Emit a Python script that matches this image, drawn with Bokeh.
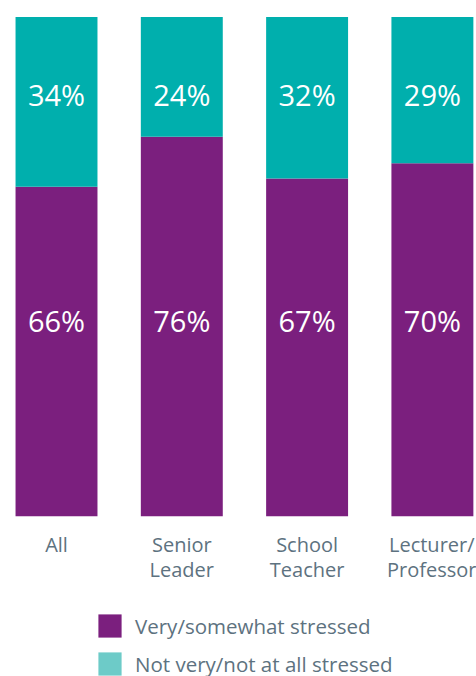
from bokeh.plotting import figure
from bokeh.layouts import column
from bokeh.models import ColumnDataSource, Range1d, FixedTicker, LinearAxis, Legend, LegendItem
from bokeh.core.properties import value
from bokeh.embed import file_html
from bokeh.resources import INLINE

categories = ["All", "Senior\nLeader", "School\nTeacher", "Lecturer/\nProfessor"]
stressed = [66, 76, 67, 70]
not_stressed = [34, 24, 32, 29]
series_labels = ["Very/somewhat stressed", "Not very/not at all stressed"]

PURPLE = "#7B1F7E"
TEAL = "#00AFAD"
TEAL_LEG = "#6DCBC8"
TXT = "#5D7280"
FONT = "Open Sans"

x = list(range(len(categories)))
totals = [a + b for a, b in zip(stressed, not_stressed)]
source = ColumnDataSource(dict(
    x=x,
    stressed=[100 * a / t for a, t in zip(stressed, totals)],
    not_stressed=[100 * b / t for b, t in zip(not_stressed, totals)],
    s_lab=[f"{v}%" for v in stressed],
    n_lab=[f"{v}%" for v in not_stressed],
    s_y=[39.2] * len(x),
    n_y=[84.5] * len(x),
))

p = figure(width=476, height=600, output_backend="svg", toolbar_location=None,
           x_range=Range1d(-0.447, 3.352), y_range=Range1d(0, 103.3),
           min_border_left=0, min_border_right=0, min_border_top=0, min_border_bottom=84,
           x_axis_location=None, y_axis_location=None)
p.outline_line_color = None
p.xgrid.visible = False
p.ygrid.visible = False
p.background_fill_color = "white"
p.border_fill_color = "white"

p.vbar_stack(["stressed", "not_stressed"], x="x", width=0.654, source=source,
             color=[PURPLE, TEAL], line_color=None)

for col, ycol in (("s_lab", "s_y"), ("n_lab", "n_y")):
    p.text(x="x", y=ycol, text=col, source=source, text_color="white",
           text_font=value(FONT), text_font_size="29px", text_align="center",
           text_baseline="middle")

ax = LinearAxis(ticker=FixedTicker(ticks=x),
                major_label_overrides={i: c for i, c in zip(x, categories)})
ax.axis_line_color = None
ax.major_tick_line_color = None
ax.minor_tick_line_color = None
ax.major_tick_out = 0
ax.major_tick_in = 0
ax.major_label_standoff = 14
ax.major_label_text_font = FONT
ax.major_label_text_font_size = "20px"
ax.major_label_text_color = TXT
ax.major_label_text_line_height = 0.95
p.add_layout(ax, "below")

lg = figure(width=476, height=76, output_backend="svg", toolbar_location=None,
            x_range=Range1d(0, 1), y_range=Range1d(0, 1),
            min_border_left=0, min_border_right=0, min_border_top=0, min_border_bottom=0,
            x_axis_location=None, y_axis_location=None)
lg.outline_line_color = None
lg.xgrid.visible = False
lg.ygrid.visible = False
lg.border_fill_color = "white"

# zero-size placeholder bars, only used to draw the legend swatches
dummy = ColumnDataSource(dict(x=[0], top=[0]))
r1 = lg.vbar(x="x", top="top", width=0.0, source=dummy, fill_color=PURPLE, line_color=None)
r2 = lg.vbar(x="x", top="top", width=0.0, source=dummy, fill_color=TEAL_LEG, line_color=None)
legend = Legend(items=[LegendItem(label=series_labels[0], renderers=[r1]),
                       LegendItem(label=series_labels[1], renderers=[r2])],
                location=(95, -2), orientation="vertical",
                glyph_width=29, glyph_height=29, label_standoff=11, spacing=9,
                padding=0, margin=0, border_line_color=None, background_fill_alpha=0,
                label_text_font=FONT, label_text_font_size="20.5px", label_text_color=TXT,
                label_height=29)
lg.add_layout(legend, "center")

open("out.html", "w").write(file_html(column(p, lg, spacing=0), INLINE))
